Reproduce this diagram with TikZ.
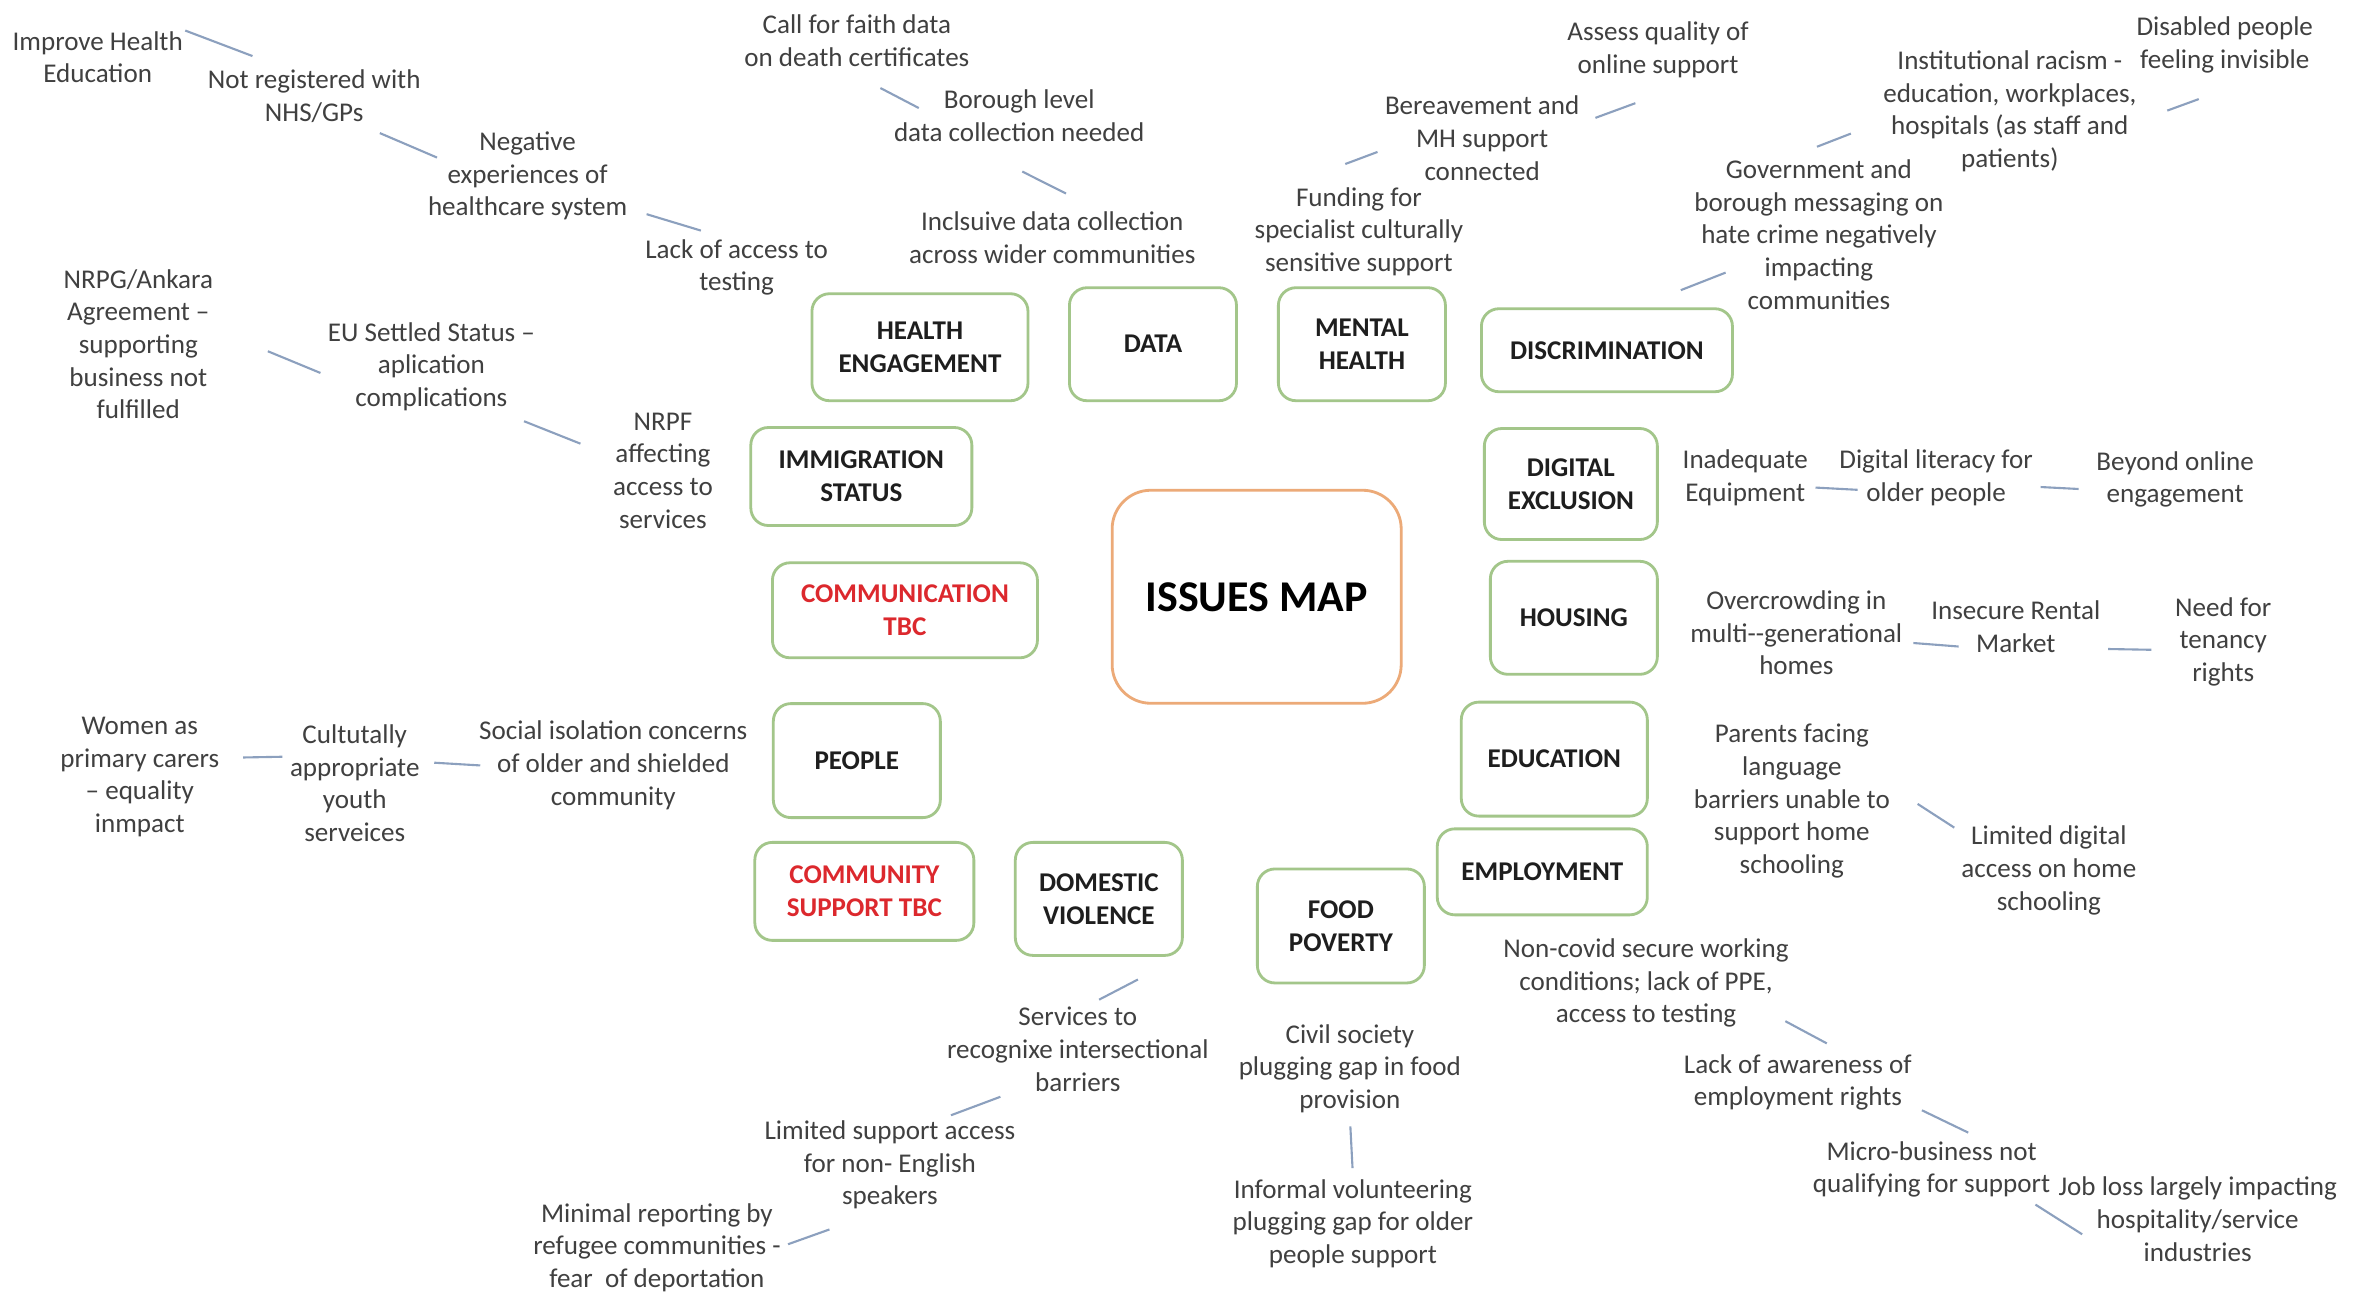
\documentclass[tikz,border=0pt]{standalone}
\usepackage{fontspec}
\setmainfont{Carlito}

\definecolor{boxgreen}{RGB}{163,198,138}
\definecolor{mapborder}{RGB}{236,170,120}
\definecolor{linkblue}{RGB}{140,160,190}
\definecolor{notegray}{RGB}{64,64,64}
\definecolor{tbcred}{RGB}{220,40,45}
\definecolor{labelink}{RGB}{30,30,30}

\newcommand{\notesize}{\fontsize{7.7}{9.3}\selectfont}

\begin{document}
\begin{tikzpicture}[
    x=0.015032cm, y=-0.015032cm,
    note/.style={align=center, font=\notesize, text=notegray, inner sep=1pt},
    issue/.style={draw=boxgreen, line width=0.8pt, rounded corners=5pt, align=center, font=\notesize\bfseries, text=labelink, inner sep=2pt},
    tbc/.style={issue, text=tbcred},
    hub/.style={draw=mapborder, line width=0.8pt, rounded corners=11pt, font=\fontsize{12.5}{15}\selectfont\bfseries, text=black, minimum width=2.89cm, minimum height=2.13cm},
    link/.style={draw=linkblue, line width=0.6pt}
  ]
  \fill[white] (0,0) rectangle (1568,863);
  \useasboundingbox (0,0) rectangle (1568,863);

  % Centre
  \node[hub] (map) at (836,397) {ISSUES MAP};

  % Issue boxes
  \node[issue, minimum width=2.16cm, minimum height=1.07cm] (health) at (612,231) {HEALTH\\ENGAGEMENT};
  \node[issue, minimum width=1.67cm, minimum height=1.13cm] (data) at (767,229) {DATA};
  \node[issue, minimum width=1.67cm, minimum height=1.13cm] (mental) at (906,229) {MENTAL\\HEALTH};
  \node[issue, minimum width=2.51cm, minimum height=0.83cm] (discrim) at (1069,233) {DISCRIMINATION};
  \node[issue, minimum width=2.21cm, minimum height=0.98cm] (immig) at (573,317) {IMMIGRATION\\STATUS};
  \node[issue, minimum width=1.73cm, minimum height=1.11cm] (digex) at (1045,322) {DIGITAL\\EXCLUSION};
  \node[tbc, minimum width=2.65cm, minimum height=0.95cm] (comms) at (602,406) {COMMUNICATION\\TBC};
  \node[issue, minimum width=1.67cm, minimum height=1.13cm] (housing) at (1047,411) {HOUSING};
  \node[issue, minimum width=1.67cm, minimum height=1.14cm] (people) at (570,506) {PEOPLE};
  \node[issue, minimum width=1.86cm, minimum height=1.14cm] (educ) at (1034,505) {EDUCATION};
  \node[tbc, minimum width=2.19cm, minimum height=0.98cm] (commsup) at (575,593) {COMMUNITY\\SUPPORT TBC};
  \node[issue, minimum width=1.67cm, minimum height=1.13cm] (domvio) at (731,598) {DOMESTIC\\VIOLENCE};
  \node[issue, minimum width=1.67cm, minimum height=1.14cm] (food) at (892,616) {FOOD\\POVERTY};
  \node[issue, minimum width=2.10cm, minimum height=0.86cm] (employ) at (1026,580) {EMPLOYMENT};

  % Health engagement notes
  \node[note] (improve) at (65,38) {Improve Health\\Education};
  \node[note] (notreg) at (209,64) {Not registered with\\NHS/GPs};
  \node[note] (negexp) at (351,117) {Negative\\experiences of\\healthcare system};
  \node[note] (lacktest) at (490,178) {Lack of access to\\testing};

  % Immigration notes
  \node[note] (nrpg) at (92,229) {NRPG/Ankara\\Agreement –\\supporting\\business not\\fulfilled};
  \node[note] (eustatus) at (287,244) {EU Settled Status –\\aplication\\complications};
  \node[note] (nrpf) at (441,313) {NRPF\\affecting\\access to\\services};

  % Data notes
  \node[note] (faith) at (570,27) {Call for faith data\\on death certificates};
  \node[note] (borough) at (678,77) {Borough level\\data collection needed};
  \node[note] (inclusive) at (700,158) {Inclsuive data collection\\across wider communities};

  % Mental health notes
  \node[note] (assess) at (1103,33) {Assess quality of\\online support};
  \node[note] (bereave) at (986,92) {Bereavement and\\MH support\\connected};
  \node[note] (funding) at (904,154) {Funding for\\specialist culturally\\sensitive support};

  % Discrimination notes
  \node[note] (disabled) at (1480,30) {Disabled people\\feeling invisible};
  \node[note] (racism) at (1337,74) {Institutional racism -\\education, workplaces,\\hospitals (as staff and\\patients)};
  \node[note] (govmsg) at (1210,156) {Government and\\borough messaging on\\hate crime negatively\\impacting\\communities};

  % Digital exclusion notes
  \node[note] (inadeq) at (1161,318) {Inadequate\\Equipment};
  \node[note] (diglit) at (1288,318) {Digital literacy for\\older people};
  \node[note] (beyond) at (1447,319) {Beyond online\\engagement};

  % Housing notes
  \node[note] (overcrowd) at (1195,421) {Overcrowding in\\multi-{}-generational\\homes};
  \node[note] (rental) at (1341,417) {Insecure Rental\\Market};
  \node[note] (tenancy) at (1479,427) {Need for\\tenancy\\rights};

  % Education notes
  \node[note] (parents) at (1192,533) {Parents facing\\language\\barriers unable to\\support home\\schooling};
  \node[note] (limdigital) at (1363,579) {Limited digital\\access on home\\schooling};

  % Employment notes
  \node[note] (noncovid) at (1095,654) {Non-covid secure working\\conditions; lack of PPE,\\access to testing};
  \node[note] (awareness) at (1196,720) {Lack of awareness of\\employment rights};
  \node[note] (micro) at (1285,778) {Micro-business not\\qualifying for support};
  \node[note] (jobloss) at (1462,811) {Job loss largely impacting\\hospitality/service\\industries};

  % Food poverty notes
  \node[note] (civil) at (898,711) {Civil society\\plugging gap in food\\provision};
  \node[note] (informal) at (900,814) {Informal volunteering\\plugging gap for older\\people support};

  % Domestic violence notes
  \node[note] (services) at (717,698) {Services to\\recognixe intersectional\\barriers};
  \node[note] (limsupport) at (592,775) {Limited support access\\for non- English\\speakers};
  \node[note] (minimal) at (437,830) {Minimal reporting by\\refugee communities -\\fear\ \ of deportation};

  % People notes
  \node[note] (isolation) at (408,509) {Social isolation concerns\\of older and shielded\\community};
  \node[note] (youth) at (236,521) {Cultutally\\appropriate\\youth\\serveices};
  \node[note] (women) at (93,517) {Women as\\primary carers\\– equality\\inmpact};

  % Links
  \draw[link, shorten <=2.8pt, shorten >=7.7pt] (improve.21) -- (notreg.140);
  \draw[link, shorten <=4.6pt, shorten >=-4.1pt] (notreg.-31) -- (negexp.167);
  \draw[link, shorten <=4.5pt, shorten >=4.6pt] (negexp.-18) -- (lacktest.122);
  \draw[link, shorten <=15.6pt, shorten >=1pt] (nrpg.10) -- (eustatus.184);
  \draw[link, shorten <=4.6pt, shorten >=8.7pt] (eustatus.-32) -- (nrpf.164);
  \draw[link, shorten <=10.7pt, shorten >=-9.3pt] (faith.252) -- (borough.170);
  \draw[link, shorten <=16.3pt, shorten >=8.8pt] (borough.212) -- (inclusive.36);
  \draw[link, shorten <=15.4pt, shorten >=1pt] (funding.143) -- (bereave.187);
  \draw[link, shorten <=3.6pt, shorten >=17.7pt] (bereave.9) -- (assess.-42);
  \draw[link, shorten <=13.4pt, shorten >=-10.8pt] (discrim.55) -- (govmsg.202);
  \draw[link, shorten <=6.8pt, shorten >=8.6pt] (govmsg.107) -- (racism.185);
  \draw[link, shorten <=8.1pt, shorten >=18pt] (racism.-4) -- (disabled.-44);
  \draw[link, shorten <=1pt, shorten >=-6.4pt] (inadeq.-8) -- (diglit.186);
  \draw[link, shorten <=1pt, shorten >=3.9pt] (diglit.-5) -- (beyond.187);
  \draw[link, shorten <=2pt, shorten >=-9pt] (overcrowd.-5) -- (rental.191);
  \draw[link, shorten <=1pt, shorten >=5.6pt] (rental.-14) -- (tenancy.189);
  \draw[link, shorten <=8pt, shorten >=1pt] (parents.7) -- (limdigital.156);
  \draw[link, shorten <=-2.4pt, shorten >=4pt] (noncovid.-16) -- (awareness.38);
  \draw[link, shorten <=1.9pt, shorten >=3pt] (awareness.-12) -- (micro.35);
  \draw[link, shorten <=1.5pt, shorten >=-9.4pt] (micro.-18) -- (jobloss.179);
  \draw[link, shorten <=2.6pt, shorten >=2pt] (civil.south) -- (informal.north);
  \draw[link, shorten <=14pt, shorten >=2pt] (domvio.-35) -- (services.72);
  \draw[link, shorten <=1pt, shorten >=1pt] (services.212) -- (limsupport.40);
  \draw[link, shorten <=13.5pt, shorten >=1pt] (limsupport.252) -- (minimal.1);
  \draw[link, shorten <=-1.5pt, shorten >=3pt] (isolation.180) -- (youth.17);
  \draw[link, shorten <=1pt, shorten >=5.6pt] (youth.159) -- (women.13);
\end{tikzpicture}
\end{document}
